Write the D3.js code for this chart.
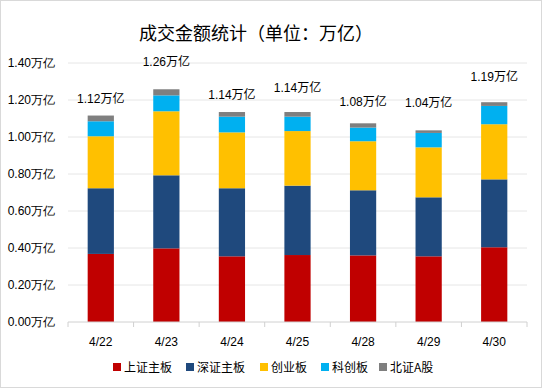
<!DOCTYPE html>
<html>
<head>
<meta charset="utf-8">
<script src="https://cdn.jsdelivr.net/npm/d3@7"></script>
<style>
  html, body { margin: 0; padding: 0; background: #fff; }
  svg { display: block; font-family: "Liberation Sans", "Noto Sans CJK SC", sans-serif; }
</style>
</head>
<body>
<div id="chart"></div>
<script>
// data (万亿)
const dates = ['4/22', '4/23', '4/24', '4/25', '4/28', '4/29', '4/30'];
const seriesNames = ['上证主板', '深证主板', '创业板', '科创板', '北证A股'];
const shMain = [0.368, 0.398, 0.355, 0.362, 0.360, 0.355, 0.404];
const szMain = [0.355, 0.395, 0.368, 0.375, 0.352, 0.319, 0.367];
const chinext = [0.281, 0.346, 0.302, 0.295, 0.265, 0.270, 0.298];
const star = [0.081, 0.086, 0.085, 0.078, 0.074, 0.078, 0.099];
const bse = [0.031, 0.033, 0.025, 0.025, 0.023, 0.014, 0.020];
const totalLabels = ['1.12万亿', '1.26万亿', '1.14万亿', '1.14万亿', '1.08万亿', '1.04万亿', '1.19万亿'];
const yTicks = [0, 0.2, 0.4, 0.6, 0.8, 1.0, 1.2, 1.4];

// label lift above each bar (px), as placed in the original
const labelLift = [17, 27, 17, 24, 21, 27, 25];
const colors = ['#C00000', '#1F497D', '#FFC000', '#00B0F0', '#7F7F7F'];

const W = 542, H = 388;
const margin = { top: 63, right: 15, bottom: 66, left: 68 };
const width = W - margin.left - margin.right;
const height = H - margin.top - margin.bottom;

const svg = d3.select('#chart')
  .append('svg')
  .attr('width', W)
  .attr('height', H);

svg.append('rect')
  .attr('x', 0.5).attr('y', 0.5)
  .attr('width', W - 1).attr('height', H - 1)
  .attr('fill', '#fff')
  .attr('stroke', '#d9d9d9');

svg.append('text')
  .attr('x', 256).attr('y', 40)
  .attr('text-anchor', 'middle')
  .attr('font-family', '"Noto Sans CJK SC", sans-serif')
  .attr('font-size', 18)
  .attr('fill', '#000')
  .text('成交金额统计（单位：万亿）');

const g = svg.append('g')
  .attr('transform', 'translate(' + margin.left + ',' + margin.top + ')');

const x = d3.scaleBand().domain(dates).range([0, width]).paddingInner(0.6).paddingOuter(0.3);
const xOuter = d3.scaleBand().domain(dates).range([0, width]);
const y = d3.scaleLinear().domain([0, 1.4]).range([height, 0]);

// gridlines
g.append('g')
  .selectAll('line')
  .data(yTicks.slice(1))
  .join('line')
  .attr('x1', 0).attr('x2', width)
  .attr('y1', d => y(d)).attr('y2', d => y(d))
  .attr('stroke', '#e6e6e6');

// y axis labels
const yAxis = g.append('g')
  .call(d3.axisLeft(y).tickValues(yTicks).tickFormat(d => d.toFixed(2) + '万亿').tickSize(0).tickPadding(13));
yAxis.select('.domain').remove();
yAxis.selectAll('text')
  .attr('font-size', 12)
  .attr('fill', '#000');

// stacked bars
const table = dates.map((d, i) => ({
  date: d, s0: shMain[i], s1: szMain[i], s2: chinext[i], s3: star[i], s4: bse[i]
}));
const stack = d3.stack().keys(['s0', 's1', 's2', 's3', 's4']);
const layers = stack(table);

g.append('g')
  .selectAll('g')
  .data(layers)
  .join('g')
  .attr('fill', (d, i) => colors[i])
  .selectAll('rect')
  .data(d => d)
  .join('rect')
  .attr('x', d => x(d.data.date))
  .attr('width', x.bandwidth())
  .attr('y', d => y(d[1]))
  .attr('height', d => y(d[0]) - y(d[1]));

// total labels
const topLayer = layers[layers.length - 1];
g.append('g')
  .selectAll('text')
  .data(dates)
  .join('text')
  .attr('x', d => x(d) + x.bandwidth() / 2)
  .attr('y', (d, i) => y(topLayer[i][1]) - labelLift[i] + 4)
  .attr('text-anchor', 'middle')
  .attr('font-size', 12)
  .attr('fill', '#000')
  .text((d, i) => totalLabels[i]);

// x axis
const xAxis = g.append('g')
  .attr('transform', 'translate(0,' + height + ')');
xAxis.append('line')
  .attr('x1', 0).attr('x2', width)
  .attr('stroke', '#d0d0d0');
xAxis.selectAll('line.tick')
  .data(dates.concat(['end']))
  .join('line')
  .attr('class', 'tick')
  .attr('x1', (d, i) => i * xOuter.step())
  .attr('x2', (d, i) => i * xOuter.step())
  .attr('y1', 0).attr('y2', 5)
  .attr('stroke', '#d0d0d0');
xAxis.selectAll('text')
  .data(dates)
  .join('text')
  .attr('x', d => xOuter(d) + xOuter.bandwidth() / 2)
  .attr('y', 24)
  .attr('text-anchor', 'middle')
  .attr('font-size', 12)
  .attr('fill', '#000')
  .text(d => d);

// legend
const legendX = [113, 186, 260, 321, 379];
const legend = svg.append('g')
  .selectAll('g')
  .data(seriesNames)
  .join('g')
  .attr('transform', (d, i) => 'translate(' + legendX[i] + ',367)');
legend.append('rect')
  .attr('x', 0).attr('y', -4)
  .attr('width', 8).attr('height', 8)
  .attr('fill', (d, i) => colors[i]);
legend.append('text')
  .attr('x', 11).attr('y', 4.5)
  .attr('font-family', '"Noto Sans CJK SC", sans-serif')
  .attr('font-size', 12)
  .attr('fill', '#000')
  .text(d => d);
</script>
</body>
</html>
